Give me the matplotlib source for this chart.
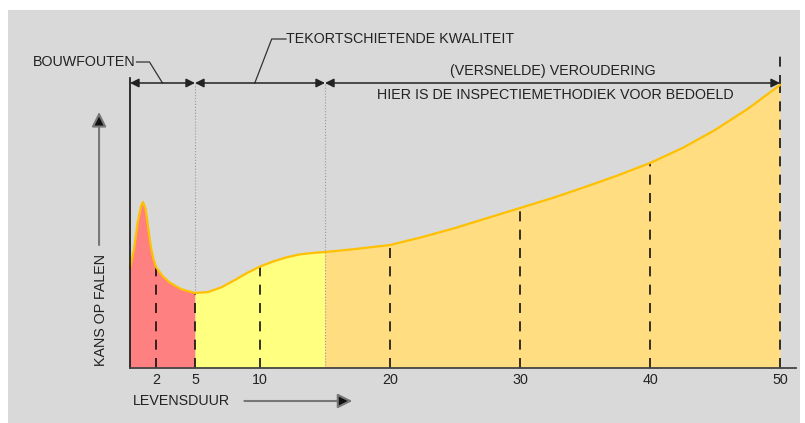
import numpy as np
import matplotlib
matplotlib.use('Agg')
import matplotlib.pyplot as plt
from matplotlib.patches import Rectangle

plt.rcParams['font.family'] = ['Liberation Sans', 'DejaVu Sans']
plt.rcParams['font.size'] = 10.3

# levensduur (jaren) en kans op falen (willekeurige eenheid)
years = [0, 0.3, 0.6, 0.85, 1.0, 1.2, 1.4, 1.6, 1.8, 2, 2.5, 3, 3.5, 4, 5, 6, 7, 8, 9, 10,
         11, 12, 13, 14, 15, 17, 20, 22.5, 25, 27.5, 30, 32.5, 35, 37.5, 40, 42.5, 45, 47.5, 50]
kans = [100, 118, 146, 162, 166, 159, 140, 121, 109, 101, 92, 86, 82, 78.5, 75, 76, 80.5, 87.5, 95, 101.5,
        106.5, 110.5, 113.5, 115, 116, 118.5, 123, 131, 140, 150, 160, 170, 181, 192.5, 205, 220, 238, 259, 283]
tick_years = [2, 5, 10, 20, 30, 40, 50]
phase_edges = [0, 5, 15, 50]
phase_colors = ['#FF8080', '#FFFF80', '#FFDD80']

x = np.array(years)
y = np.array(kans)

fig = plt.figure(figsize=(8.05, 4.23), dpi=100)
fig.patch.set_facecolor('white')
ax = fig.add_axes([0, 0, 1, 1])
ax.set_xlim(-10, 805 / 13 - 10)
ax.set_ylim(-55, 368)
ax.axis('off')
ax.add_patch(Rectangle((8 / 805, 0), 792 / 805, 413 / 423, transform=ax.transAxes,
                       facecolor='#D9D9D9', edgecolor='none', zorder=0))

# gekleurde vlakken per fase
for i in range(3):
    m = (x >= phase_edges[i]) & (x <= phase_edges[i + 1])
    ax.fill_between(x[m], 0, y[m], color=phase_colors[i], lw=0, zorder=1)
ax.plot(x, y, color='#FFC000', lw=1.6, zorder=4, solid_joinstyle='round')

# stippellijnen
for t in tick_years:
    ax.plot([t, t], [0, np.interp(t, x, y)], color='#111', lw=1.2, ls=(0, (6, 5)), zorder=3)
    ax.text(t, -12, str(t), ha='center', va='center', color='#222')
ax.plot([50, 50], [np.interp(50, x, y), 316], color='#111', lw=1.2, ls=(0, (6, 5)), zorder=3)
for t in [5, 15]:
    ax.plot([t, t], [np.interp(t, x, y) if t == 5 else 0, 285], color='#999', lw=0.8, ls=':', zorder=2)

# assen
ax.plot([0, 0], [0, 290], color='#111', lw=1.2, zorder=5)
ax.plot([0, 51.2], [0, 0], color='#444', lw=1.3, zorder=5)

# maatlijnen
for a, b in zip(phase_edges[:-1], phase_edges[1:]):
    ax.annotate('', xy=(a, 285), xytext=(b, 285),
                arrowprops=dict(arrowstyle='<|-|>', color='#222', lw=1.1,
                                mutation_scale=13, shrinkA=0, shrinkB=0))

ax.text(0.4, 306, 'BOUWFOUTEN', ha='right', va='center', color='#222')
ax.plot([0.5, 1.5, 2.5], [306, 306, 285], color='#333', lw=0.9)
ax.text(12.0, 329, 'TEKORTSCHIETENDE KWALITEIT', ha='left', va='center', color='#222')
ax.plot([12.0, 10.9, 9.6], [329, 329, 285], color='#333', lw=0.9)
ax.text(32.5, 297, '(VERSNELDE) VEROUDERING', ha='center', va='center', color='#222')
ax.text(32.7, 273, 'HIER IS DE INSPECTIEMETHODIEK VOOR BEDOELD', ha='center', va='center', color='#222')

# aslabels met pijlen
ax.text(-2.25, 58, 'KANS OP FALEN', rotation=90, ha='center', va='center', color='#222')
ax.annotate('', xy=(-2.38, 256), xytext=(-2.38, 123),
            arrowprops=dict(arrowstyle='-|>', color='#777', lw=1.5, mutation_scale=22,
                            shrinkA=0, shrinkB=0, fc='#111', ec='#777'))
ax.text(0.2, -33, 'LEVENSDUUR', ha='left', va='center', color='#222')
ax.annotate('', xy=(17.1, -33), xytext=(8.8, -33),
            arrowprops=dict(arrowstyle='-|>', color='#777', lw=1.5, mutation_scale=22,
                            shrinkA=0, shrinkB=0, fc='#111', ec='#777'))

fig.savefig('out.png', dpi=100)
